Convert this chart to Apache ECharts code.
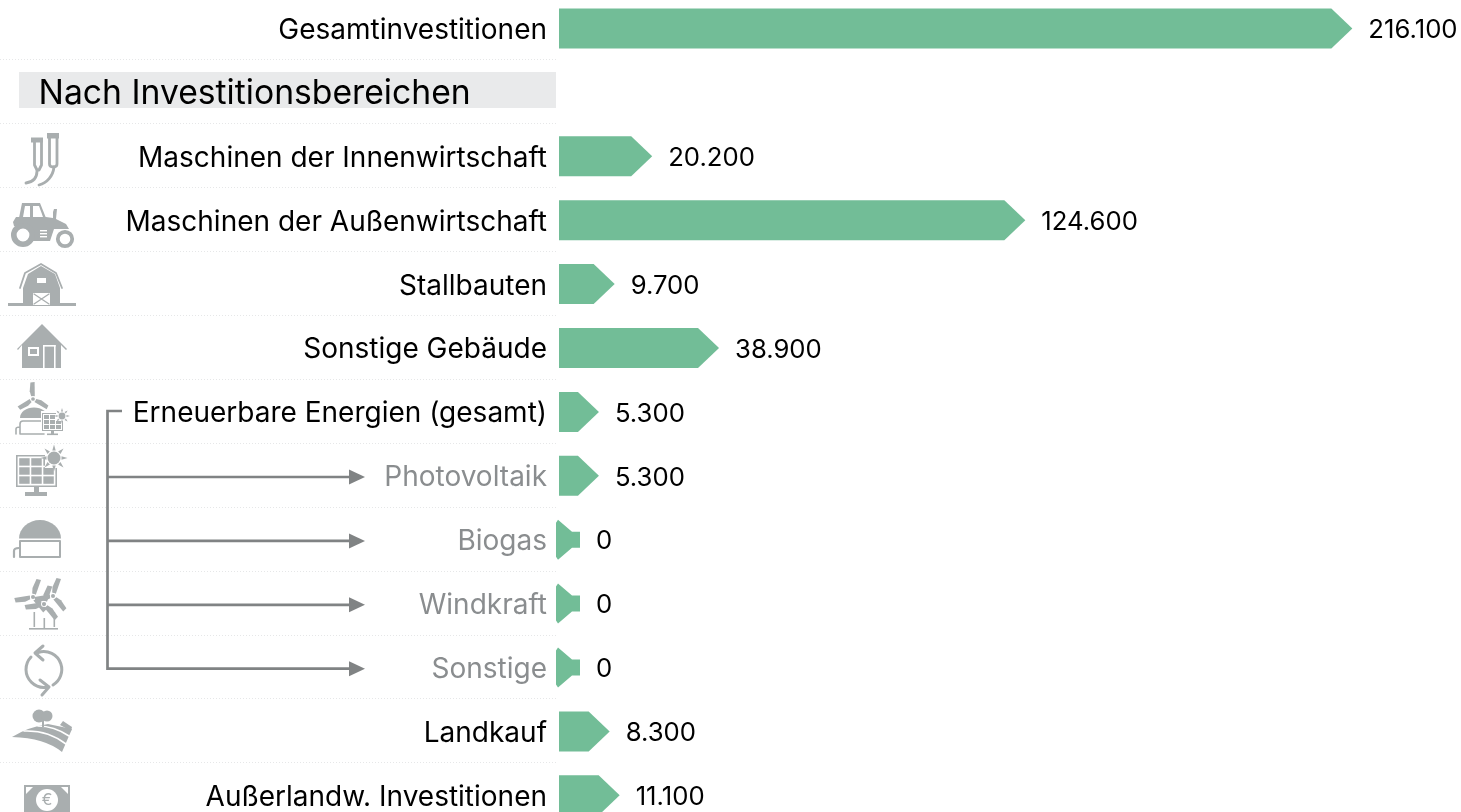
<!DOCTYPE html>
<html>
<head>
<meta charset="utf-8">
<style>html,body{margin:0;padding:0;background:#fff}#main{width:1461px;height:812px}</style>
<script src="https://cdn.jsdelivr.net/npm/echarts@6/dist/echarts.min.js"></script>
</head>
<body>
<div id="main"></div>
<script>
const categories = ['Gesamtinvestitionen', '', 'Maschinen der Innenwirtschaft', 'Maschinen der Außenwirtschaft', 'Stallbauten', 'Sonstige Gebäude', 'Erneuerbare Energien (gesamt)', 'Photovoltaik', 'Biogas', 'Windkraft', 'Sonstige', 'Landkauf', 'Außerlandw. Investitionen'];
const values = [216100, null, 20200, 124600, 9700, 38900, 5300, 5300, 0, 0, 0, 8300, 11100];
const subCategories = ['Photovoltaik', 'Biogas', 'Windkraft', 'Sonstige'];
const heading = 'Nach Investitionsbereichen';

const FONT = 'Inter';
const ROW = 63.9;
const TOP = 28.5 - ROW / 2;
const GREEN = '#72bd97';
const ICON = '#a9aeaf';
const LINE = '#808384';

const rowY = i => 28.5 + ROW * i;
const fmt = v => String(v).replace(/\B(?=(\d{3})+$)/g, '.');

// icon helpers, all in page pixels
const fill = (d, color) => ({ type: 'path', shape: { pathData: d }, style: { fill: color || ICON }, silent: true });
const line = (d, w, color) => ({ type: 'path', shape: { pathData: d }, style: { fill: 'none', stroke: color || ICON, lineWidth: w, lineCap: 'round', lineJoin: 'round' }, silent: true });
const circ = (cx, cy, r, color) => ({ type: 'circle', shape: { cx, cy, r }, style: { fill: color || ICON }, silent: true });
const ring = (cx, cy, r, w) => ({ type: 'circle', shape: { cx, cy, r }, style: { fill: '#fff', stroke: ICON, lineWidth: w }, silent: true });
const rect = (x, y, width, height, color) => ({ type: 'rect', shape: { x, y, width, height }, style: { fill: color || ICON }, silent: true });

function turbine(cx, cy, s, angles) {
  const blade = a => {
    const c = Math.cos(a), n = Math.sin(a);
    const p = (l, o) => (cx + c * l * s - n * o * s).toFixed(1) + ' ' + (cy + n * l * s + c * o * s).toFixed(1);
    return fill('M' + p(2.5, -1.6) + 'L' + p(7, -3) + 'L' + p(15, -2.4) + 'L' + p(15.5, 1.4) + 'L' + p(2.5, 1.6) + 'Z');
  };
  return [...angles.map(blade), circ(cx, cy, 2.4 * s, '#fff'), circ(cx, cy, 1.7 * s)];
}

function sun(cx, cy, r, len) {
  const out = [circ(cx, cy, r)];
  for (let k = 0; k < 8; k++) {
    const a = k * Math.PI / 4 - Math.PI / 2, b = 0.22;
    const pt = (ra, an) => (cx + ra * Math.cos(an)).toFixed(1) + ' ' + (cy + ra * Math.sin(an)).toFixed(1);
    out.push(fill('M' + pt(r + 1.2, a - b) + 'L' + pt(r + len, a) + 'L' + pt(r + 1.2, a + b) + 'Z'));
  }
  return out;
}

function panel(x, y, w, h, b) {
  const out = [rect(x, y, w, h), rect(x + b, y + b, w - 2 * b, h - 2 * b, '#fff')];
  const cw = (w - 2 * b - 4 * b) / 3, ch = (h - 2 * b - 4 * b) / 3;
  for (let r = 0; r < 3; r++) {
    for (let c = 0; c < 3; c++) out.push(rect(x + 2 * b + c * (cw + b), y + 2 * b + r * (ch + b), cw, ch));
  }
  return out;
}

const icons = [
  // Melkzeug
  line('M34.5 141V165L37 170H39L41.5 165V141', 2.8), fill('M31 137.5H43V142.5H31Z'),
  line('M49.5 137V164C49.5 168 57 168 57 164V137', 2.8), fill('M47 133H59V138.5H47Z'),
  line('M37 171C37 178 33 182 26 183', 2.8), line('M54 167C53 176 47 183 39 185', 2.8),
  // Traktor
  fill('M19 218L22 203H40L46 218Z'),
  fill('M23 217L25 206H30V217Z', '#fff'), fill('M33 206H39L43 217H33Z', '#fff'),
  fill('M13 222L16 217H46L53 218V212L54 209H57L56 219L66 224L69 229H54L50 241H33L31 230L14 226Z'),
  ring(23, 235, 9.2, 5.6), ring(65, 239, 7.2, 3.8),
  rect(40, 230, 7, 1.4, '#fff'), rect(40, 233, 7, 1.4, '#fff'), rect(40, 236, 7, 1.4, '#fff'),
  // Stall
  rect(8, 303, 68, 3),
  fill('M23 305V288L28 274L41 266L55 274L60 288V305Z'),
  line('M20 288L25 273L41 264L56 273L62 288', 1.8),
  rect(37, 278, 9, 5, '#fff'), rect(33, 293, 17, 12, '#fff'),
  line('M34 294L49 304M49 294L34 304', 1.3),
  // Haus
  fill('M42 324L67 349L66 350L61 345V368H22V345L18 350L17 349Z'),
  rect(28, 347, 11, 9, '#fff'), rect(30, 349, 7, 5), rect(43, 345, 1.6, 23, '#fff'), rect(54, 345, 1.6, 23, '#fff'),
  rect(43, 345, 12.6, 1.6, '#fff'),
  // Erneuerbare gesamt
  fill('M20 418A14 10.5 0 0 1 48 418Z'),
  ...turbine(33, 399, 1.1, [-1.57, 0.55, 2.6]),
  line('M16 434V429Q16 427 20 427M20 434V424Q20 421 23 421H44M20 434H44', 1.6),
  rect(41, 411, 23, 22, '#fff'),
  ...panel(42, 413, 21, 18, 1),
  rect(51, 431, 3, 3), rect(47, 433.5, 11, 1.6),
  rect(56, 408, 13, 13, '#fff'), ...sun(62, 416, 3.4, 4.5),
  // Photovoltaik
  ...panel(16, 455, 41, 32, 1.6),
  rect(34, 487, 5, 5), rect(25, 492, 22, 4),
  rect(45, 448, 20, 20, '#fff'), ...sun(54, 458, 6.5, 7),
  // Biogas
  fill('M19 538.5A21 18.5 0 0 1 61 538.5Z'),
  line('M20 541H60V557H20Z', 2), line('M14 557V551Q14 548 19 548', 2.2),
  // Windkraft
  rect(33.5, 612, 1.6, 15), rect(43.5, 618, 1.6, 10), rect(53.5, 612, 1.6, 15),
  ...turbine(33, 597, 1.2, [-1.22, 0.9, 3.0]),
  ...turbine(53, 596, 1.2, [-1.22, 0.9, 3.0]),
  ...turbine(44, 604, 1.25, [-1.22, 0.9, 3.0]),
  rect(29, 628, 29, 1.6),
  // Sonstige Pfeile
  line('M38 652.5A18 18 0 0 1 53 685', 3), line('M31 657A18 18 0 0 0 48 687', 3),
  line('M43 646L35 653L43 660', 3), line('M40 680L49 687L42 695', 3),
  // Landkauf
  fill('M12 737Q28 727 48 724L72 729L62 752Q45 738 12 737Z'),
  line('M24 731Q48 730 66 744M38 726Q54 726 69 736', 1.6, '#fff'),
  circ(39, 716, 6.5), circ(47, 716, 5.5), rect(42, 720, 2, 7),
  fill('M60 725L63 721L72 727L71 731Z'),
  // Euro
  rect(24, 785, 46, 27),
  fill('M26 787H33L26 794Z', '#fff'), fill('M68 787H61L68 794Z', '#fff'),
  circ(47, 800, 11, '#fff'),
  { type: 'text', style: { x: 47, y: 800, text: '€', font: '16px ' + FONT, fill: ICON, textAlign: 'center', textVerticalAlign: 'middle' }, silent: true }
];

// Verbindungslinien Erneuerbare Energien
const connector = [
  { type: 'polyline', shape: { points: [[122, 411], [107.5, 411], [107.5, 670]] }, style: { fill: 'none', stroke: LINE, lineWidth: 2.7 }, silent: true }
];
subCategories.forEach((c) => {
  const y = rowY(categories.indexOf(c)) + 1.2;
  connector.push(
    { type: 'line', shape: { x1: 107, y1: y, x2: 350, y2: y }, style: { stroke: LINE, lineWidth: 2.7 }, silent: true },
    { type: 'polygon', shape: { points: [[349, y - 7.5], [365, y], [349, y + 7.5]] }, style: { fill: LINE }, silent: true }
  );
});

// gepunktete Trennlinien
const separators = [];
for (let i = 0; i < 12; i++) {
  const y = Math.round(rowY(i) + ROW / 2) - 0.5;
  separators.push({ type: 'line', shape: { x1: 0, y1: y, x2: 556, y2: y }, style: { stroke: '#e6e7e8', lineWidth: 1, lineDash: [1, 2] }, silent: true });
}

const chart = echarts.init(document.getElementById('main'));

const option = {
  animation: false,
  backgroundColor: '#fff',
  grid: { left: 559, top: TOP, width: 893.5, height: ROW * categories.length, outerBoundsMode: 'none' },
  xAxis: { type: 'value', min: 0, max: 250000, show: false },
  yAxis: {
    type: 'category',
    inverse: true,
    data: categories,
    axisLine: { show: false },
    axisTick: { show: false },
    axisLabel: {
      interval: 0,
      margin: 12,
      // kleiner lineHeight + top: Text sitzt 2px unter der Bandmitte
      verticalAlign: 'top',
      lineHeight: 4,
      fontFamily: FONT,
      fontSize: 28,
      color: (v) => (subCategories.includes(v) ? '#8a8d8f' : '#000')
    }
  },
  graphic: {
    elements: [
      ...separators,
      { type: 'rect', shape: { x: 19, y: 72, width: 537, height: 36 }, style: { fill: '#e9eaeb' }, silent: true },
      { type: 'text', style: { x: 38.5, y: 93.5, text: heading, font: '33.7px ' + FONT, fill: '#000', textVerticalAlign: 'middle' }, silent: true },
      ...connector
    ]
  },
  series: [{
    type: 'custom',
    coordinateSystem: 'cartesian2d',
    clip: false,
    encode: { x: 1, y: 0 },
    data: categories.map((c, i) => [i, values[i]]).filter(d => d[1] != null),
    renderItem: function (params, api) {
      const v = api.value(1);
      const end = api.coord([v, api.value(0)]);
      const x0 = api.coord([0, api.value(0)])[0];
      const y = end[1], h = 20, tip = 21;
      let pts;
      if (v > 0) {
        pts = [[x0, y - h], [end[0], y - h], [end[0] + tip, y], [end[0], y + h], [x0, y + h]];
      } else {
        // Wert 0: Pfeil klappt um
        pts = [[x0 - 3, y - 17], [x0 - 1, y - h], [x0 + 13, y - 8], [x0 + 21, y - 8], [x0 + 21, y + 8], [x0 + 13, y + 8], [x0 - 1, y + h], [x0 - 3, y + 17]];
      }
      return {
        type: 'group',
        children: [
          { type: 'polygon', shape: { points: pts }, style: { fill: GREEN } },
          { type: 'text', style: { x: end[0] + tip + 16, y: y + 2, text: fmt(v), fill: '#000', font: '25.7px ' + FONT, textAlign: 'left', textVerticalAlign: 'middle' } }
        ]
      };
    }
  }, {
    // Icons links, graphic-Komponente kennt kein path
    type: 'custom',
    coordinateSystem: 'none',
    clip: false,
    silent: true,
    data: [0],
    renderItem: () => ({ type: 'group', children: icons })
  }]
};

chart.setOption(option);
</script>
</body>
</html>
